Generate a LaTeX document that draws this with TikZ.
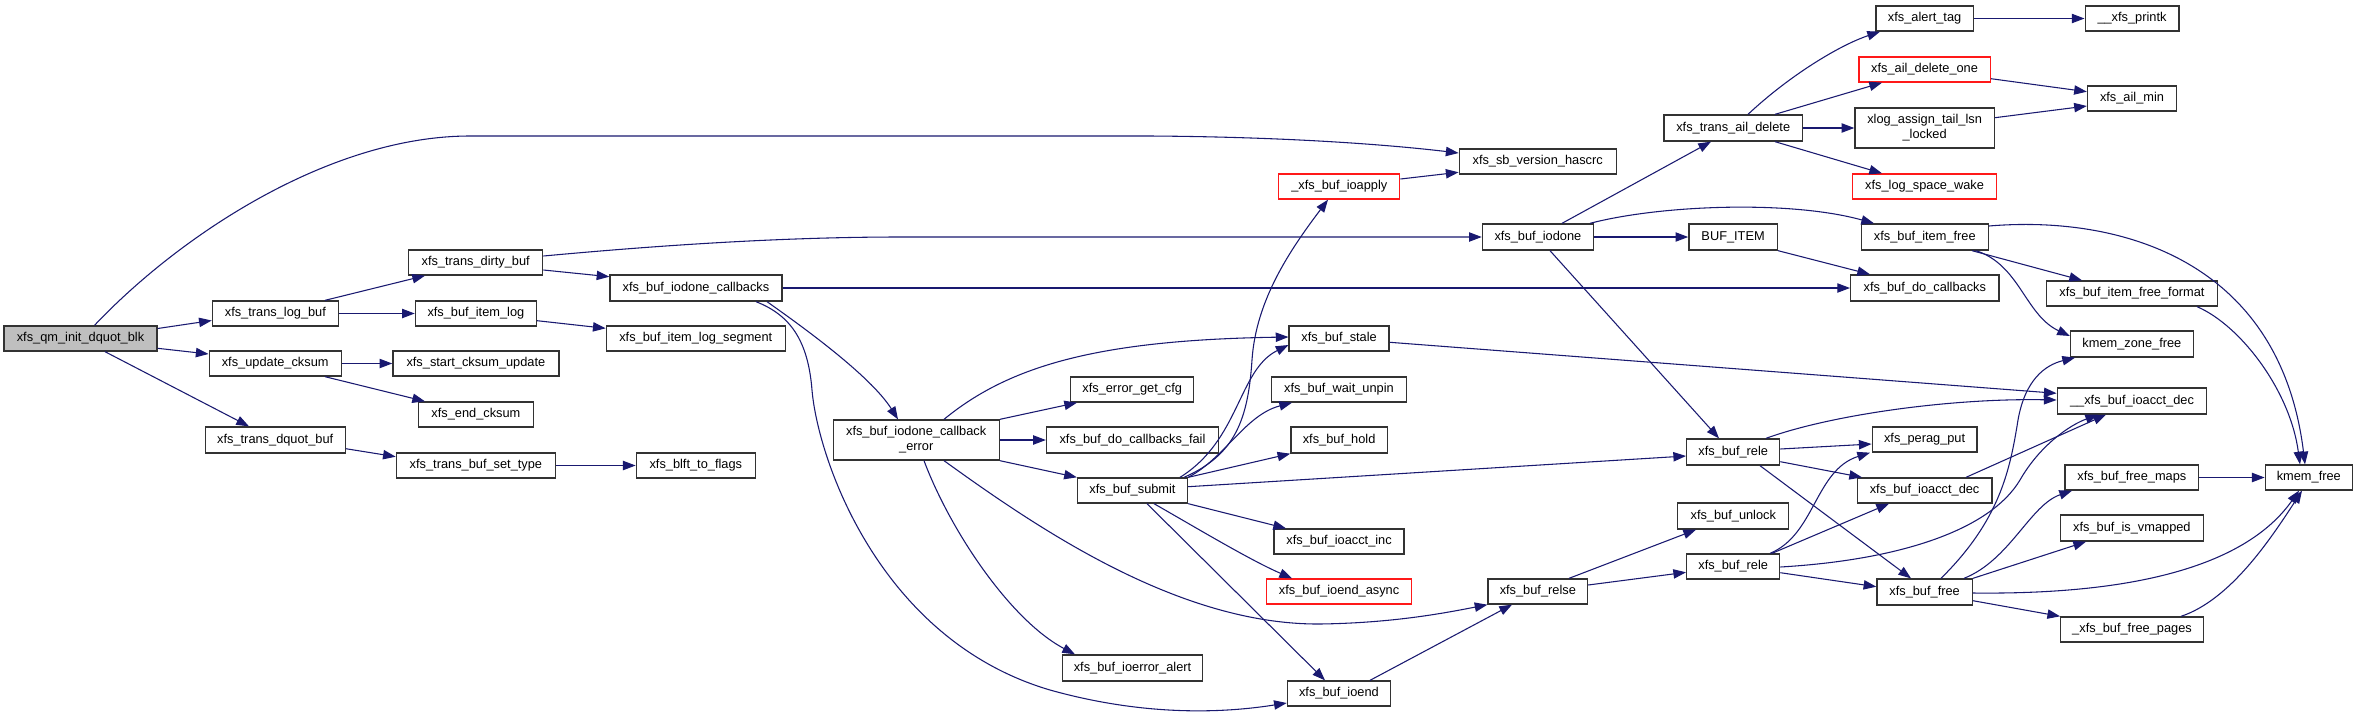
\documentclass[tikz,border=0pt]{standalone}
\usepackage{fontspec}
\newfontfamily\nodefam{Liberation Sans}
\usetikzlibrary{arrows.meta}
\definecolor{edgecol}{HTML}{191970}
\definecolor{rootgray}{HTML}{BFBFBF}
\begin{document}
\begin{tikzpicture}[x=0.75pt,y=-0.75pt,
  box/.style={draw=black!80, line width=1pt, fill=white, inner sep=0pt, align=center,
    font={\nodefam\fontsize{9.6pt}{11.25pt}\selectfont}},
  redbox/.style={box, draw=red!90},
  rootbox/.style={box, fill=rootgray},
  sz/.style 2 args={minimum width=#1*0.75pt, minimum height=#2*0.75pt},
  e/.style={draw=edgecol, line width=0.8pt, -{Triangle[length=9.5pt,width=7pt,fill=edgecol]}}]
\fill[white] (0,0) rectangle (2357,722);
\useasboundingbox (0,0) rectangle (2357,722);

% nodes
\node[rootbox, sz={153}{25}] (qm) at (80.5,338.5) {xfs\_qm\_init\_dquot\_blk};
\node[box, sz={126}{25}] (tlb) at (275.4,313.5) {xfs\_trans\_log\_buf};
\node[box, sz={134}{25}] (tdb) at (475.7,262.5) {xfs\_trans\_dirty\_buf};
\node[box, sz={121}{25}] (bil) at (475.9,313.5) {xfs\_buf\_item\_log};
\node[box, sz={132}{25}] (uck) at (275.2,363.5) {xfs\_update\_cksum};
\node[box, sz={166}{25}] (sck) at (475.9,363.5) {xfs\_start\_cksum\_update};
\node[box, sz={115}{25}] (eck) at (475.9,414.5) {xfs\_end\_cksum};
\node[box, sz={140}{26}] (tdq) at (275.2,440) {xfs\_trans\_dquot\_buf};
\node[box, sz={159}{25}] (tbst) at (475.9,465.5) {xfs\_trans\_buf\_set\_type};
\node[box, sz={172}{26}] (bic) at (696,288) {xfs\_buf\_iodone\_callbacks};
\node[box, sz={179}{25}] (bils) at (695.8,338.5) {xfs\_buf\_item\_log\_segment};
\node[box, sz={119}{25}] (blft) at (695.8,465.5) {xfs\_blft\_to\_flags};
\node[box, sz={166}{40}] (cberr) at (916.2,440) {xfs\_buf\_iodone\_callback\\\_error};
\node[box, sz={123}{25}] (egc) at (1132.2,389.5) {xfs\_error\_get\_cfg};
\node[box, sz={172}{26}] (dcf) at (1132.5,440) {xfs\_buf\_do\_callbacks\_fail};
\node[box, sz={110}{25}] (submit) at (1132.5,490.5) {xfs\_buf\_submit};
\node[box, sz={140}{26}] (ioerr) at (1132.5,668) {xfs\_buf\_ioerror\_alert};
\node[box, sz={157}{25}] (sbv) at (1537.7,161.5) {xfs\_sb\_version\_hascrc};
\node[redbox, sz={121}{25}] (ioapply) at (1339.3,186.5) {\_xfs\_buf\_ioapply};
\node[box, sz={138.5}{26}] (tad) at (1733.2,128) {xfs\_trans\_ail\_delete};
\node[box, sz={111}{26}] (iodone) at (1537.9,237) {xfs\_buf\_iodone};
\node[box, sz={88.5}{26}] (bufitem) at (1733.1,237) {BUF\_ITEM};
\node[box, sz={100}{25}] (stale) at (1339.1,338.5) {xfs\_buf\_stale};
\node[box, sz={135}{25}] (unpin) at (1339,389.5) {xfs\_buf\_wait\_unpin};
\node[box, sz={96.4}{26}] (hold) at (1339.1,440) {xfs\_buf\_hold};
\node[box, sz={130}{25}] (inc) at (1339.1,541.5) {xfs\_buf\_ioacct\_inc};
\node[redbox, sz={145.4}{25}] (async) at (1339.1,591.5) {xfs\_buf\_ioend\_async};
\node[box, sz={103}{25}] (ioend) at (1338.9,693.5) {xfs\_buf\_ioend};
\node[box, sz={99.5}{25}] (relse) at (1537.8,591.5) {xfs\_buf\_relse};
\node[box, sz={93}{26}] (rele1) at (1733.2,452) {xfs\_buf\_rele};
\node[box, sz={111}{26}] (unlock) at (1733.3,516) {xfs\_buf\_unlock};
\node[box, sz={93}{25}] (rele2) at (1733.2,566.5) {xfs\_buf\_rele};
\node[box, sz={97.5}{25}] (alert) at (1924.6,18.5) {xfs\_alert\_tag};
\node[redbox, sz={131.5}{25}] (adone) at (1924.6,69.5) {xfs\_ail\_delete\_one};
\node[box, sz={139.3}{40}] (xlog) at (1924.6,128) {xlog\_assign\_tail\_lsn\\\_locked};
\node[redbox, sz={144}{25}] (lsw) at (1924.6,186.5) {xfs\_log\_space\_wake};
\node[box, sz={127}{26}] (bif) at (1924.8,237) {xfs\_buf\_item\_free};
\node[box, sz={148.3}{26}] (bdc) at (1924.8,288) {xfs\_buf\_do\_callbacks};
\node[box, sz={104.7}{25}] (perag) at (1924.6,439.5) {xfs\_perag\_put};
\node[box, sz={134.5}{25}] (dec) at (1924.6,490.5) {xfs\_buf\_ioacct\_dec};
\node[box, sz={95.3}{26}] (bfree) at (1924.6,592) {xfs\_buf\_free};
\node[box, sz={93.7}{25}] (printk) at (2132,18.5) {\_\_xfs\_printk};
\node[box, sz={89}{25}] (ailmin) at (2132,98.5) {xfs\_ail\_min};
\node[box, sz={170.8}{25}] (biff) at (2131.9,293.5) {xfs\_buf\_item\_free\_format};
\node[box, sz={122.8}{26}] (kzf) at (2131.9,344) {kmem\_zone\_free};
\node[box, sz={149.5}{26}] (xdec) at (2132,401) {\_\_xfs\_buf\_ioacct\_dec};
\node[box, sz={133.8}{25}] (fmaps) at (2131.9,477.5) {xfs\_buf\_free\_maps};
\node[box, sz={143.2}{26}] (vmapped) at (2131.9,528) {xfs\_buf\_is\_vmapped};
\node[box, sz={142.5}{25}] (fpages) at (2132,629.5) {\_xfs\_buf\_free\_pages};
\node[box, sz={87}{25}] (kfree) at (2308.8,477.5) {kmem\_free};

% edges
\draw[e] (qm.north -| 94.5,0) .. controls (180,235) and (330,136) .. (470,136) -- (1150,136) .. controls (1300,137) and (1400,146) .. (sbv.west |- 0,153);
\draw[e] (qm.east |- 0,328.5) -- (tlb.west |- 0,320.5);
\draw[e] (qm.east |- 0,348.3) -- (uck.west |- 0,354);
\draw[e] (qm.south -| 105,0) -- (tdq.north -| 249,0);
\draw[e] (tlb.north -| 325,0) -- (tdb.south -| 425,0);
\draw[e] (tlb) -- (bil);
\draw[e] (bil.east |- 0,320.7) -- (bils.west |- 0,328.3);
\draw[e] (tdb.east |- 0,256) .. controls (620,249) and (760,237) .. (900,237) -- (iodone.west);
\draw[e] (tdb.east |- 0,270) -- (bic.west |- 0,276.7);
\draw[e] (uck) -- (sck);
\draw[e] (uck.south -| 325,0) -- (eck.north -| 425,0);
\draw[e] (tdq.east |- 0,448.7) -- (tbst.west |- 0,456.7);
\draw[e] (tbst) -- (blft);
\draw[e] (bic) -- (bdc);
\draw[e] (bic.south -| 767,0) .. controls (800,325) and (870,375) .. (cberr.north -| 898,0);
\draw[e] (bic.south -| 756,0) .. controls (790,315) and (808,340) .. (812,390) .. controls (818,460) and (880,640) .. (1050,690) .. controls (1150,718) and (1230,712) .. (ioend.west |- 0,703);
\draw[e] (cberr.north east) -- (egc.south -| 1077,0);
\draw[e] (cberr) -- (dcf);
\draw[e] (cberr.south east) -- (submit.north west);
\draw[e] (cberr.north -| 944,0) .. controls (1010,365) and (1100,340) .. (stale.west |- 0,337);
\draw[e] (cberr.south -| 924,0) .. controls (950,530) and (1010,620) .. (ioerr.north -| 1075,0);
\draw[e] (cberr.south -| 944,0) .. controls (1040,530) and (1180,625) .. (1320,624) .. controls (1390,623) and (1440,614) .. (relse.south west);
\draw[e] (submit.south -| 1147,0) -- (ioend.north -| 1325,0);
\draw[e] (submit.south -| 1154,0) .. controls (1200,530) and (1250,560) .. (async.north -| 1292,0);
\draw[e] (submit.south east) -- (inc.north -| 1286,0);
\draw[e] (submit.east |- 0,486.7) -- (rele1.west |- 0,456);
\draw[e] (submit.north east) -- (hold.south west);
\draw[e] (submit.north east) .. controls (1225,458) and (1245,415) .. (unpin.south -| 1292,0);
\draw[e] (submit.north -| 1180,0) .. controls (1240,440) and (1238,370) .. (stale.west |- 0,345);
\draw[e] (submit.north -| 1184,0) .. controls (1235,455) and (1248,420) .. (1252,360) .. controls (1256,300) and (1290,250) .. (ioapply.south -| 1328,0);
\draw[e] (ioapply.east |- 0,179) -- (sbv.west |- 0,172.3);
\draw[e] (iodone.north -| 1562,0) -- (tad.south -| 1711,0);
\draw[e] (iodone) -- (bufitem);
\draw[e] (iodone.north -| 1590,0) .. controls (1660,205) and (1790,200) .. (bif.north -| 1874,0);
\draw[e] (iodone.south -| 1550,0) -- (rele1.north -| 1719,0);
\draw[e] (tad.north -| 1748,0) .. controls (1790,75) and (1840,45) .. (alert.south -| 1880,0);
\draw[e] (tad.north -| 1775,0) -- (adone.south -| 1882,0);
\draw[e] (tad) -- (xlog);
\draw[e] (tad.south -| 1775,0) -- (lsw.north -| 1882,0);
\draw[e] (alert) -- (printk);
\draw[e] (adone.east |- 0,78.7) -- (ailmin.west |- 0,91.7);
\draw[e] (xlog.east |- 0,117.7) -- (ailmin.west |- 0,106);
\draw[e] (bufitem.south east) -- (bdc.north -| 1870,0);
\draw[e] (bif.south -| 1972,0) -- (biff.north -| 2082,0);
\draw[e] (bif.south -| 1976,0) .. controls (2020,265) and (2025,315) .. (kzf.west |- 0,336);
\draw[e] (bif.east |- 0,226) .. controls (2120,215) and (2280,260) .. (kfree.north -| 2305,0);
\draw[e] (biff.south -| 2197,0) .. controls (2240,325) and (2290,390) .. (kfree.north -| 2300,0);
\draw[e] (stale.east |- 0,342.3) -- (xdec.west |- 0,393.3);
\draw[e] (rele1.north -| 1766,0) .. controls (1830,415) and (1950,398) .. (xdec.west |- 0,400);
\draw[e] (rele1.east |- 0,449) -- (perag.west |- 0,444);
\draw[e] (rele1.east |- 0,461.7) -- (dec.north -| 1862,0);
\draw[e] (rele1.south -| 1760,0) -- (bfree.north -| 1911,0);
\draw[e] (dec.north -| 1966,0) -- (xdec.south -| 2106,0);
\draw[e] (relse.north -| 1569,0) -- (unlock.south -| 1696,0);
\draw[e] (relse.east |- 0,585) -- (rele2.west |- 0,572.3);
\draw[e] (ioend.north -| 1370,0) -- (relse.south -| 1512,0);
\draw[e] (rele2.north -| 1770,0) .. controls (1815,535) and (1815,470) .. (perag.south -| 1870,0);
\draw[e] (rele2.north -| 1772,0) -- (dec.south -| 1889,0);
\draw[e] (rele2.east |- 0,567) .. controls (1900,560) and (1990,530) .. (2020,480) .. controls (2040,445) and (2070,425) .. (xdec.south -| 2098,0);
\draw[e] (rele2.east |- 0,572.7) -- (bfree.west |- 0,586.7);
\draw[e] (bfree.north -| 1941,0) .. controls (2000,520) and (2010,470) .. (2018,420) .. controls (2025,380) and (2045,365) .. (kzf.south -| 2075,0);
\draw[e] (bfree.north -| 1964,0) .. controls (2010,560) and (2030,505) .. (fmaps.south -| 2072,0);
\draw[e] (bfree.north east) -- (vmapped.south -| 2086,0);
\draw[e] (bfree.east |- 0,593) .. controls (2150,595) and (2250,560) .. (kfree.south -| 2299,0);
\draw[e] (bfree.east |- 0,600.7) -- (fpages.north west);
\draw[e] (fmaps) -- (kfree);
\draw[e] (fpages.north -| 2181,0) .. controls (2230,600) and (2270,540) .. (kfree.south -| 2302,0);
\end{tikzpicture}
\end{document}
